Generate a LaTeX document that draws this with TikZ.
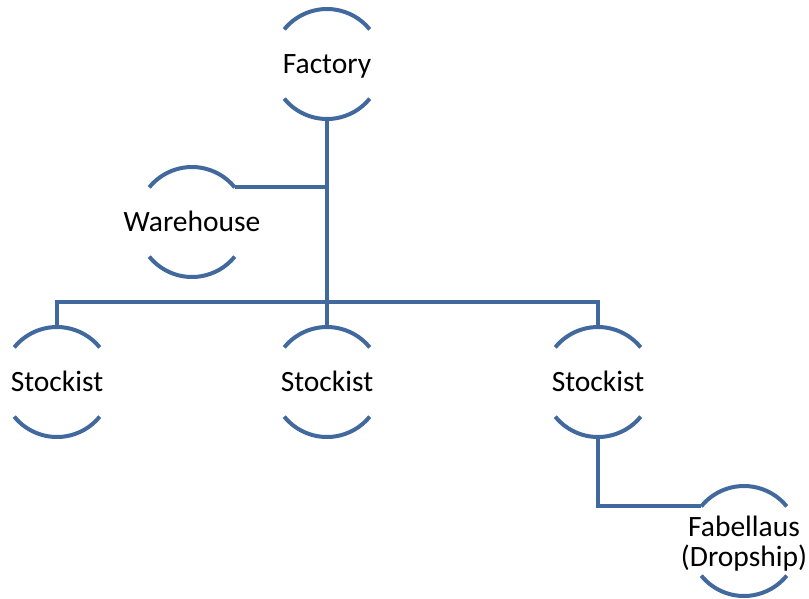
\documentclass[tikz,border=0pt]{standalone}
\usepackage{fontspec}
\setmainfont{Carlito}
\definecolor{linkblue}{RGB}{65,105,158}
\begin{document}
\begin{tikzpicture}[x=1pt,y=1pt,
  unit/.style={inner sep=0pt, font=\fontsize{29.5}{30}\selectfont, align=center, text=black, yshift=-3pt},
  arcline/.style={draw=linkblue, line width=4pt},
  link/.style={draw=linkblue, line width=4pt}]
\useasboundingbox (0,0) rectangle (809,-598);
\newcommand{\unitarcs}[2]{%
  \coordinate (#1) at (#2);
  \coordinate (#1-tl) at ([shift={(141:55pt)}]#1);
  \coordinate (#1-tr) at ([shift={(39:55pt)}]#1);
  \coordinate (#1-bl) at ([shift={(219:55pt)}]#1);
  \coordinate (#1-top) at ([shift={(90:55pt)}]#1);
  \coordinate (#1-bot) at ([shift={(270:55pt)}]#1);
  \draw[arcline] (#1-tl) arc[start angle=141, end angle=39, radius=55pt];
  \draw[arcline] (#1-bl) arc[start angle=219, end angle=321, radius=55pt];}
\unitarcs{f}{327,-64}
\unitarcs{w}{192,-222}
\unitarcs{s1}{57,-382}
\unitarcs{s2}{327,-382}
\unitarcs{s3}{598,-382}
\unitarcs{d}{744,-541}
\node[unit] (ft) at (f) {\strut Factory};
\node[unit] (wt) at (w) {\strut Warehouse};
\node[unit] (s1t) at (s1) {\strut Stockist};
\node[unit] (s2t) at (s2) {\strut Stockist};
\node[unit] (s3t) at (s3) {\strut Stockist};
\node[unit] (dt) at (d) {Fabellaus\\(Dropship)};
\coordinate (j) at (327,-302);
\draw[link] (f-bot) -- (s2-top);
\draw[link] (w-tr) -- (w-tr -| f-bot);
\draw[link] (s1-top) -- (s1-top |- j) -- (s3-top |- j) -- (s3-top);
\draw[link] (s3-bot) |- (d-tl);
\end{tikzpicture}
\end{document}
